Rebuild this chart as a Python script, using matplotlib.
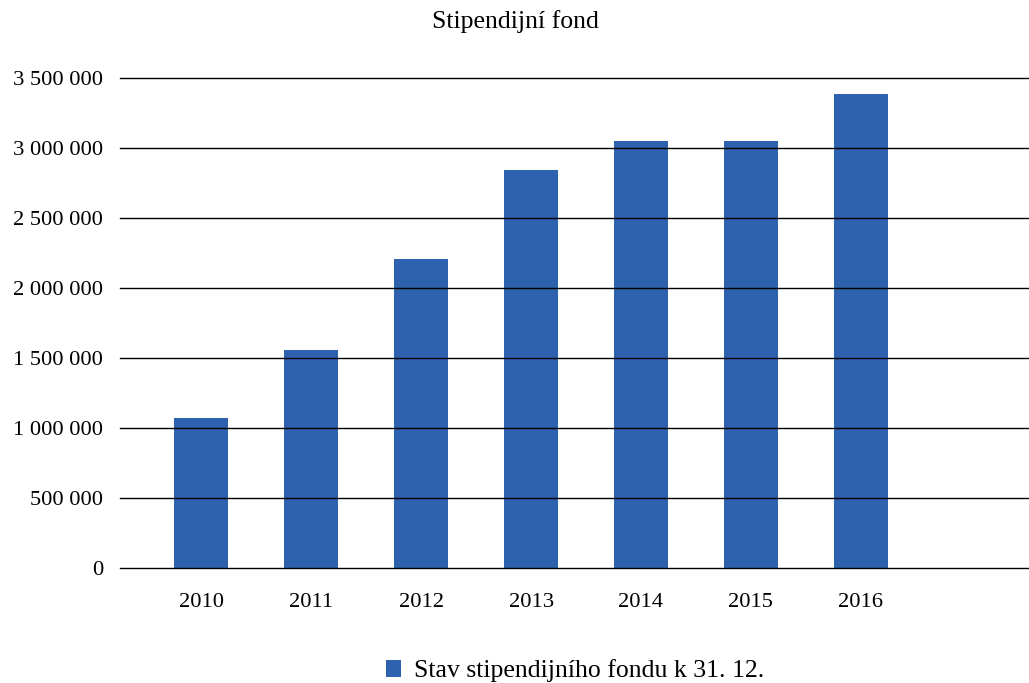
import matplotlib
matplotlib.use("Agg")
import matplotlib.pyplot as plt
from matplotlib.ticker import FuncFormatter

years = ["2010", "2011", "2012", "2013", "2014", "2015", "2016"]
values = [1071000, 1557000, 2207000, 2843000, 3050000, 3050000, 3386000]
series_name = "Stav stipendijního fondu k 31. 12."
title = "Stipendijní fond"

plt.rcParams['font.family'] = ['Liberation Serif', 'DejaVu Serif']

fig = plt.figure(figsize=(10.29, 6.83), dpi=100)
ax = fig.add_axes([120/1029, 1-568/683, 1-120/1029, (568-78)/683])

x = list(range(len(years)))
bars = ax.bar(x, values, width=0.49, color="#2E61AE", label=series_name, zorder=2)

ax.set_ylim(0, 3500000)
ax.set_xlim(-0.74, 7.53)
ax.set_yticks(range(0, 3500001, 500000))
ax.yaxis.set_major_formatter(FuncFormatter(lambda v, p: f"{int(v):,}".replace(",", " ")))
ax.set_xticks(x)
ax.set_xticklabels(years)
ax.grid(axis='y', color='black', linewidth=1.0, zorder=3)
for gl in ax.get_ygridlines():
    gl.set_clip_on(False)
ax.set_axisbelow(False)
for s in ax.spines.values():
    s.set_visible(False)
ax.tick_params(axis='both', length=0, labelsize=16.2)
ax.tick_params(axis='y', pad=12)
ax.tick_params(axis='x', pad=18)

fig.text(515/1029, 1-22/683, title, ha='center', va='center', fontsize=18.5)

fig.legend(handles=[bars], labels=[series_name], loc='center', bbox_to_anchor=(575/1029, 1-671/683),
           frameon=False, fontsize=18.5, handlelength=0.6, handleheight=0.6, handletextpad=0.5)

fig.savefig("out.png", dpi=100)
